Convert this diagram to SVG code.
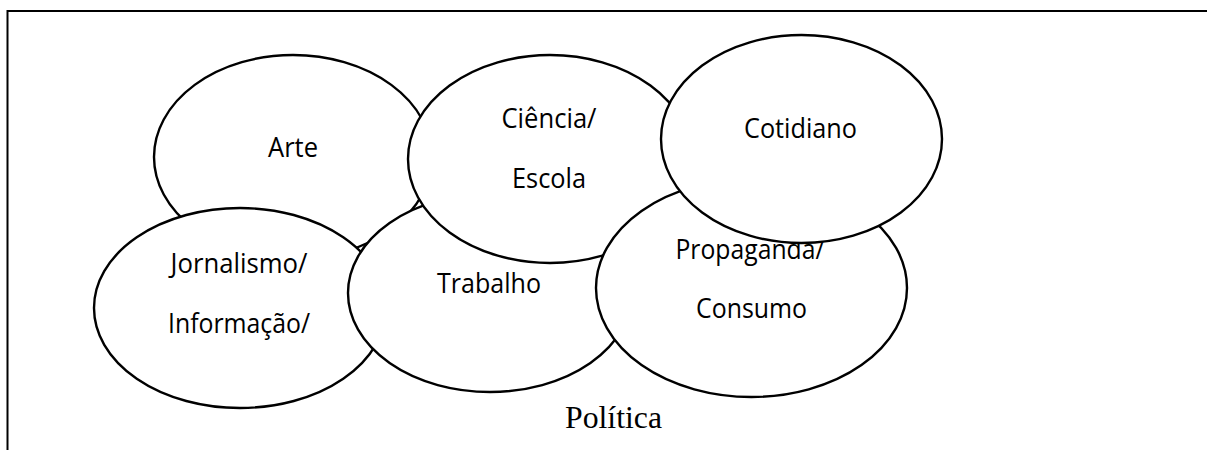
<svg xmlns="http://www.w3.org/2000/svg" width="1207" height="450" viewBox="0 0 1207 450">
<style>
.bg{fill:#ffffff}
.frame{fill:none;stroke:#000;stroke-width:2}
.el{fill:#ffffff;stroke:#000;stroke-width:2.4}
.t{font-family:"Open Sans","Lato","Liberation Sans",sans-serif;font-size:26.5px;fill:#000;text-anchor:middle}
.s{font-family:"Liberation Serif","Times New Roman",serif;font-size:31px;fill:#000;text-anchor:middle}
</style>
<rect class="bg" x="0" y="0" width="1207" height="450"/>
<g id="frame">
<path class="frame" d="M7.5 450 V11 H1207"/>
</g>
<g id="connectors"></g>
<g id="arte">
<ellipse class="el" cx="293" cy="157" rx="139" ry="102"/>
<text class="t" x="293" y="157" textLength="50" lengthAdjust="spacingAndGlyphs">Arte</text>
</g>
<g id="jornalismo">
<ellipse class="el" cx="240" cy="308" rx="146" ry="100"/>
<text class="t" x="239" y="273" textLength="137" lengthAdjust="spacingAndGlyphs">Jornalismo/</text>
<text class="t" x="239" y="333" textLength="142" lengthAdjust="spacingAndGlyphs">Informação/</text>
</g>
<g id="trabalho">
<ellipse class="el" cx="490" cy="293" rx="142" ry="99"/>
<text class="t" x="489" y="293" textLength="104" lengthAdjust="spacingAndGlyphs">Trabalho</text>
</g>
<g id="ciencia">
<ellipse class="el" cx="550" cy="159" rx="142" ry="104"/>
<text class="t" x="549" y="128" textLength="95" lengthAdjust="spacingAndGlyphs">Ciência/</text>
<text class="t" x="549" y="188" textLength="74" lengthAdjust="spacingAndGlyphs">Escola</text>
</g>
<g id="propaganda">
<ellipse class="el" cx="751.5" cy="288" rx="155.5" ry="109"/>
<text class="t" x="750" y="259" textLength="149" lengthAdjust="spacingAndGlyphs">Propaganda/</text>
<text class="t" x="751.5" y="318" textLength="111" lengthAdjust="spacingAndGlyphs">Consumo</text>
</g>
<g id="cotidiano">
<ellipse class="el" cx="801.5" cy="139" rx="140.5" ry="104"/>
<text class="t" x="800.5" y="138" textLength="113" lengthAdjust="spacingAndGlyphs">Cotidiano</text>
</g>
<g id="politica">
<text class="s" x="613.5" y="428" textLength="97" lengthAdjust="spacingAndGlyphs">Política</text>
</g>
</svg>
